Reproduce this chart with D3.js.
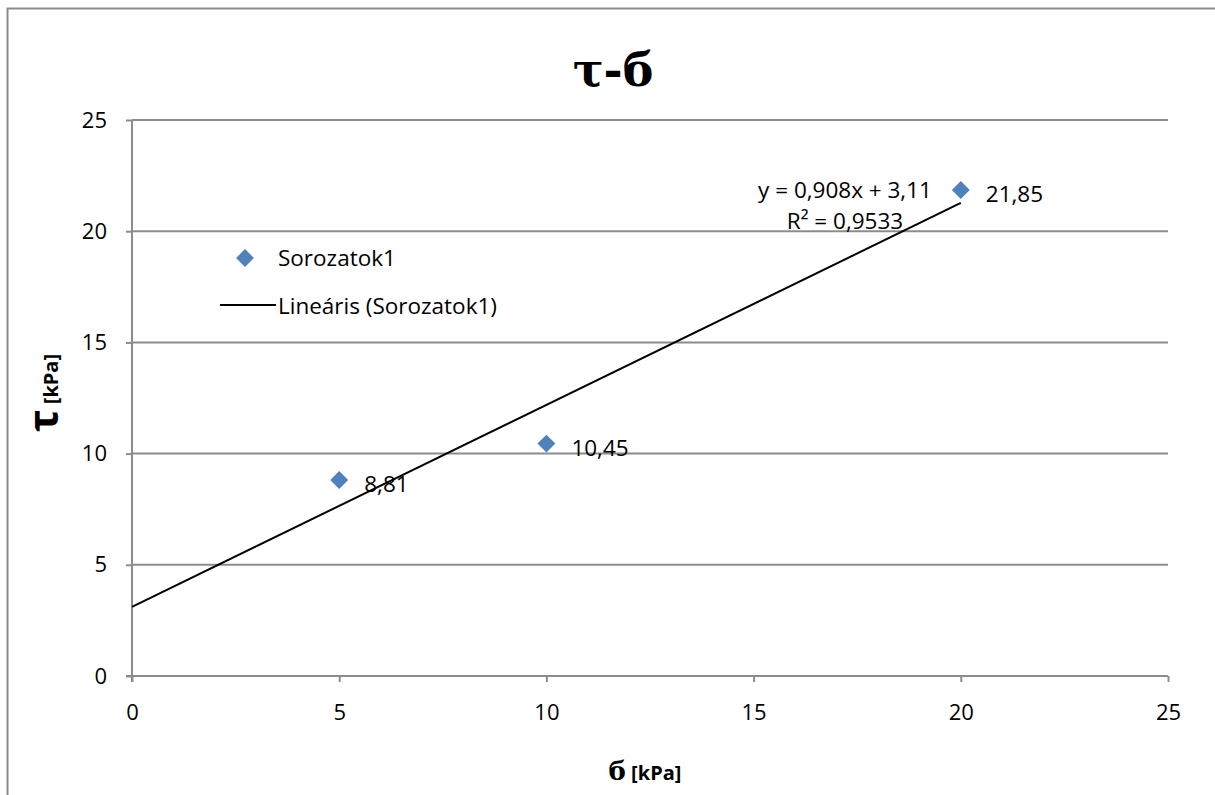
<!DOCTYPE html>
<html>
<head>
<meta charset="utf-8">
<script src="https://cdn.jsdelivr.net/npm/d3@7"></script>
<style>
  body { margin: 0; background: #fff; }
  text { font-family: "Open Sans", Lato, sans-serif; fill: #000; }
</style>
</head>
<body>
<div id="chart"></div>
<script>
const width = 1215;
const height = 795;

// data
const sigma = [5, 10, 20];
const tau = [8.81, 10.45, 21.85];
const pointLabels = ['8,81', '10,45', '21,85'];
const xTicks = [0, 5, 10, 15, 20, 25];
const yTicks = [0, 5, 10, 15, 20, 25];
const slope = 0.908;
const intercept = 3.11;
const trendText = ['y = 0,908x + 3,11', 'R² = 0,9533'];

const margin = { left: 132, right: 47, top: 120, bottom: 119 };
const fontSize = '22.5px';

const svg = d3.select('#chart').append('svg')
    .attr('width', width)
    .attr('height', height);

// outer chart border (runs off the right and bottom edges)
svg.append('rect')
    .attr('x', 7.5).attr('y', 8.5)
    .attr('width', 1300).attr('height', 900)
    .attr('fill', 'none')
    .attr('stroke', '#8c8c8c')
    .attr('stroke-width', 2);

const x = d3.scaleLinear().domain([0, 25]).range([margin.left, width - margin.right]);
const y = d3.scaleLinear().domain([0, 25]).range([height - margin.bottom, margin.top]);

// gridlines
svg.append('g').selectAll('line')
    .data(yTicks.filter(d => d > 0))
    .enter().append('line')
    .attr('x1', x(0)).attr('x2', x(25))
    .attr('y1', d => y(d)).attr('y2', d => y(d))
    .attr('stroke', '#8c8c8c')
    .attr('stroke-width', 2);

// axes
const xAxis = svg.append('g')
    .attr('transform', `translate(0,${y(0)})`)
    .call(d3.axisBottom(x).tickValues(xTicks).tickSize(6).tickPadding(22).tickFormat(d3.format('d')));
const yAxis = svg.append('g')
    .attr('transform', `translate(${x(0)},0)`)
    .call(d3.axisLeft(y).tickValues(yTicks).tickSize(6).tickPadding(19).tickFormat(d3.format('d')));

[xAxis, yAxis].forEach(a => {
    a.select('.domain').attr('stroke', '#8c8c8c').attr('stroke-width', 2);
    a.selectAll('.tick line').attr('stroke', '#8c8c8c').attr('stroke-width', 2);
    a.selectAll('.tick text').attr('font-size', '22px').attr('font-family', '"Open Sans", sans-serif');
});
yAxis.select('.domain').attr('d', `M0,${y(25)}V${y(0) + 6}`);
xAxis.select('.domain').attr('d', `M${x(0) - 6},0H${x(25)}`);

// trendline
svg.append('line')
    .attr('x1', x(0)).attr('y1', y(intercept))
    .attr('x2', x(20)).attr('y2', y(slope * 20 + intercept))
    .attr('stroke', '#000')
    .attr('stroke-width', 2);

// points
const diamond = d3.symbol().type(d3.symbolSquare).size(160);
svg.append('g').selectAll('path')
    .data(sigma)
    .enter().append('path')
    .attr('d', diamond)
    .attr('transform', (d, i) => `translate(${x(d)},${y(tau[i])}) rotate(45)`)
    .attr('fill', '#4f81bd');

svg.append('g').selectAll('text')
    .data(sigma)
    .enter().append('text')
    .attr('x', d => x(d) + 25)
    .attr('y', (d, i) => y(tau[i]) + 12)
    .attr('font-size', fontSize)
    .text((d, i) => pointLabels[i]);

// trendline equation
svg.append('g').selectAll('text')
    .data(trendText)
    .enter().append('text')
    .attr('x', 845)
    .attr('y', (d, i) => 198 + i * 31)
    .attr('text-anchor', 'middle')
    .attr('font-size', fontSize)
    .text(d => d);

// legend
const legend = svg.append('g');
legend.append('path')
    .attr('d', diamond)
    .attr('transform', 'translate(245,258) rotate(45)')
    .attr('fill', '#4f81bd');
legend.append('text')
    .attr('x', 278).attr('y', 266)
    .attr('font-size', fontSize)
    .text('Sorozatok1');
legend.append('line')
    .attr('x1', 220).attr('x2', 276)
    .attr('y1', 305).attr('y2', 305)
    .attr('stroke', '#000').attr('stroke-width', 2);
legend.append('text')
    .attr('x', 278).attr('y', 314)
    .attr('font-size', fontSize)
    .text('Lineáris (Sorozatok1)');

// title
svg.append('text')
    .attr('x', 613).attr('y', 86)
    .attr('text-anchor', 'middle')
    .attr('font-weight', 'bold')
    .attr('font-size', '46px')
    .style('font-family', '"DejaVu Serif", serif')
    .text('τ-б');

// axis titles
svg.append('text')
    .attr('x', 645).attr('y', 780)
    .attr('text-anchor', 'middle')
    .attr('font-weight', 'bold')
    .attr('font-size', '20px')
    .html('<tspan style="font-family:\'DejaVu Serif\',serif" font-size="26px">б</tspan> [kPa]');

svg.append('text')
    .attr('transform', 'translate(58,393) rotate(-90)')
    .attr('text-anchor', 'middle')
    .attr('font-weight', 'bold')
    .attr('font-size', '20px')
    .html('<tspan font-size="42px">τ</tspan> [kPa]');
</script>
</body>
</html>
